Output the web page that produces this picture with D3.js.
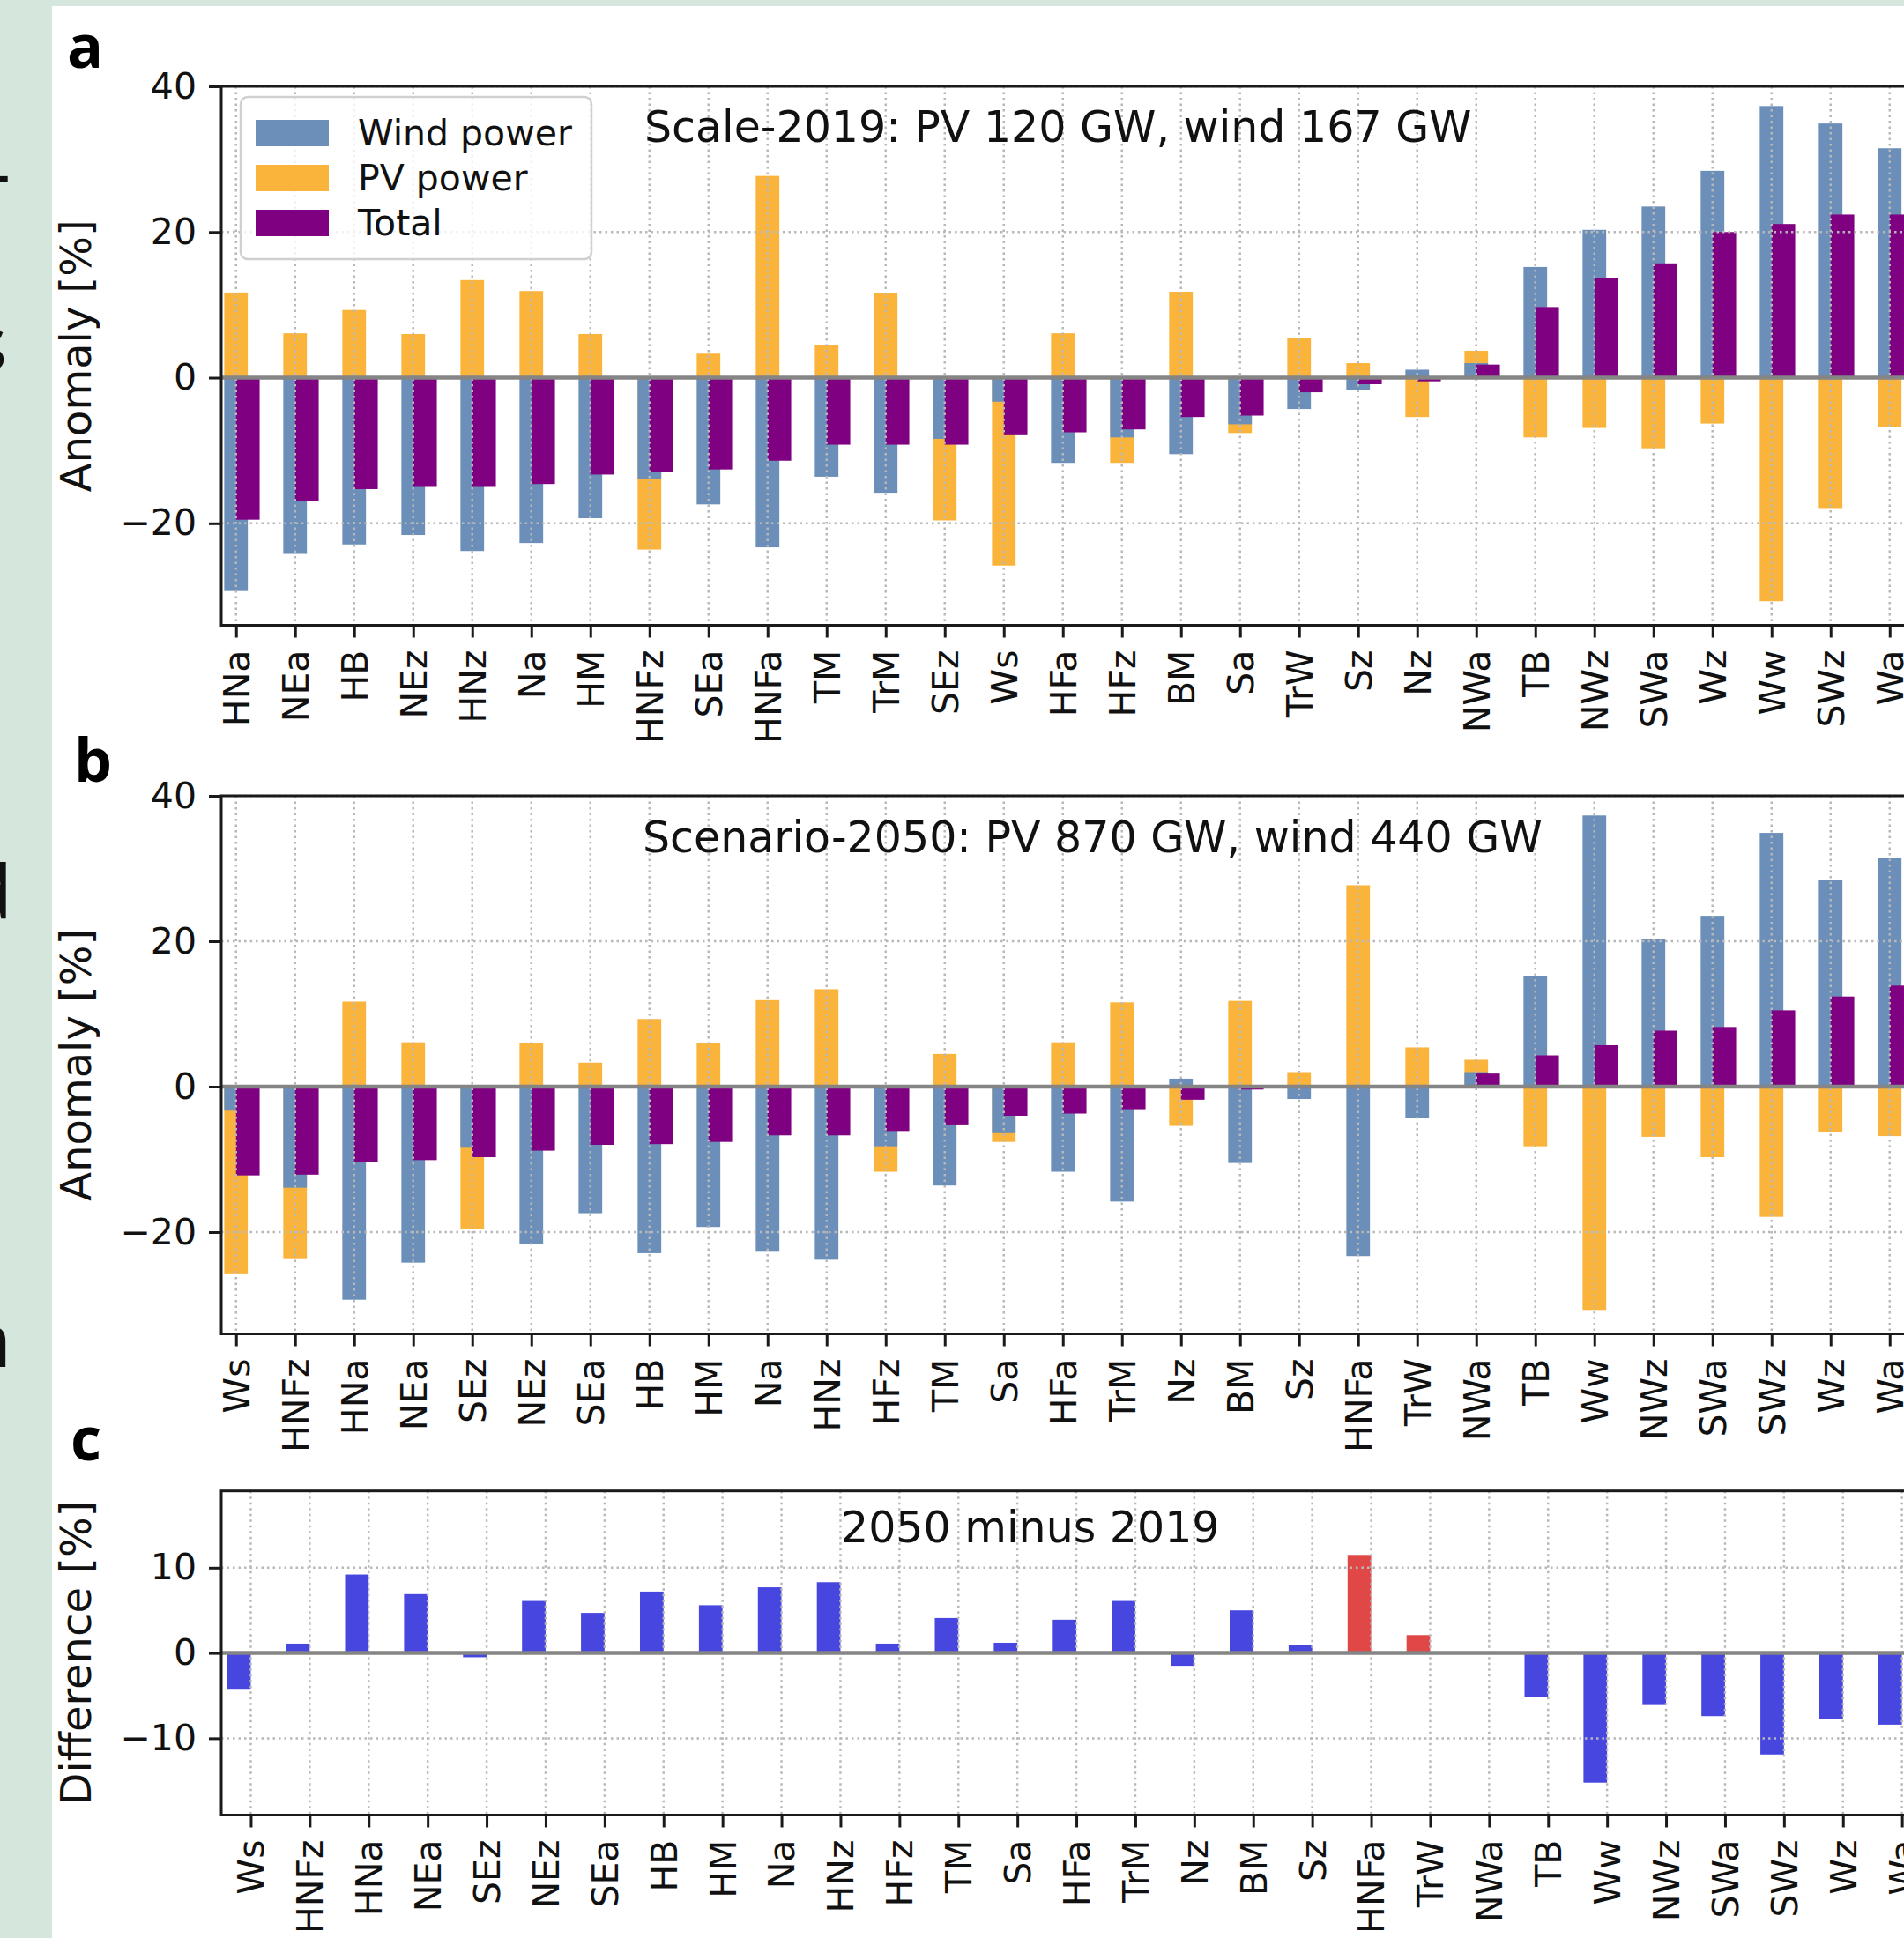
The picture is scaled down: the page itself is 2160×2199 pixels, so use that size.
<!DOCTYPE html>
<html lang="en">
<head>
  <meta charset="UTF-8">
  <title>Weather-type anomalies of wind and PV power</title>
  <script src="https://d3js.org/d3.v7.min.js"></script>
  <style>
    body { margin: 0; background: #fff; }
    svg text { font-family: "DejaVu Sans", sans-serif; }
  </style>
</head>
<body>
<div class="canvas"></div>
<script>
  // panel a order (sorted by 2019 total anomaly)
  const typesA = ['HNa', 'NEa', 'HB', 'NEz', 'HNz', 'Na', 'HM', 'HNFz', 'SEa', 'HNFa', 'TM', 'TrM', 'SEz', 'Ws', 'HFa',
    'HFz', 'BM', 'Sa', 'TrW', 'Sz', 'Nz', 'NWa', 'TB', 'NWz', 'SWa', 'Wz', 'Ww', 'SWz', 'Wa']
  const windA = [-29.3, -24.2, -22.9, -21.6, -23.8, -22.7, -19.3, -13.9, -17.4, -23.3, -13.6, -15.8, -8.4, -3.3, -11.7,
    -8.2, -10.5, -6.4, -4.3, -1.7, 1.1, 2.0, 15.2, 20.3, 23.5, 28.4, 37.3, 34.9, 31.5]
  const pvA = [11.7, 6.1, 9.3, 6.0, 13.4, 11.9, 6.0, -23.6, 3.3, 27.7, 4.5, 11.6, -19.6, -25.8, 6.1,
    -11.7, 11.8, -7.6, 5.4, 2.0, -5.4, 3.7, -8.2, -6.9, -9.7, -6.3, -30.7, -17.9, -6.8]
  const totalA = [-19.5, -17.0, -15.3, -15.0, -15.0, -14.6, -13.3, -13.0, -12.6, -11.4, -9.2, -9.2, -9.2, -7.9, -7.5,
    -7.1, -5.4, -5.2, -2.0, -0.9, -0.5, 1.8, 9.7, 13.7, 15.7, 20.0, 21.1, 22.4, 22.4]

  // panel b and c order (sorted by 2050 total anomaly)
  const typesB = ['Ws', 'HNFz', 'HNa', 'NEa', 'SEz', 'NEz', 'SEa', 'HB', 'HM', 'Na', 'HNz', 'HFz', 'TM', 'Sa', 'HFa',
    'TrM', 'Nz', 'BM', 'Sz', 'HNFa', 'TrW', 'NWa', 'TB', 'Ww', 'NWz', 'SWa', 'SWz', 'Wz', 'Wa']
  const totalB = [-12.2, -12.1, -10.3, -10.1, -9.7, -8.8, -8.0, -7.9, -7.6, -6.7, -6.7, -6.1, -5.2, -4.0, -3.7,
    -3.1, -1.8, -0.4, 0.0, 0.1, 0.1, 1.8, 4.3, 5.7, 7.7, 8.2, 10.5, 12.4, 13.9]
  const diffC = [-4.3, 1.1, 9.2, 6.9, -0.5, 6.1, 4.7, 7.2, 5.6, 7.7, 8.3, 1.1, 4.1, 1.2, 3.9,
    6.1, -1.5, 5.0, 0.9, 11.5, 2.1, 0.0, -5.2, -15.2, -6.1, -7.4, -11.9, -7.7, -8.4]
  const flipped = ['HNFa', 'TrW'] // red bars in c

  const yTicksAB = [-20, 0, 20, 40]
  const yTicksC = [-10, 0, 10]
  const legendLabels = ['Wind power', 'PV power', 'Total']

  // wind and PV anomalies are per weather type, same in a and b
  const windB = typesB.map(t => windA[typesA.indexOf(t)])
  const pvB = typesB.map(t => pvA[typesA.indexOf(t)])

  const col = { wind: '#6b8fb9', pv: '#fbb43b', total: '#7f0080', up: '#4747e0', flip: '#e04848' }

  const W = 2160, H = 2199
  const svg = d3.select('.canvas').append('svg')
    .attr('width', W)
    .attr('height', H)

  // slide background around the figure
  svg.append('rect').attr('width', W).attr('height', H).attr('fill', '#d5e6dc')
  svg.append('rect').attr('x', 59).attr('y', 7).attr('width', W - 59).attr('height', H - 7).attr('fill', '#fff')
  // cut-off slide text on the left
  const slideBits = [['-', 12, 226], ['s', 8, 420], ['d', 14, 1042], ['n', 13, 1551]]
  svg.selectAll('text.slide')
    .data(slideBits)
    .enter()
    .append('text')
    .attr('class', 'slide')
    .attr('x', d => d[1])
    .attr('y', d => d[2])
    .attr('text-anchor', 'end')
    .style('font-family', '"Open Sans", sans-serif')
    .style('font-size', '84px')
    .attr('fill', '#111')
    .text(d => d[0])

  const left = 251, right = 2192

  // frame: grid, axes, spines
  function frame(x, y, types, yTicks, top, bottom, ylabel) {
    const g = svg.append('g')
    g.append('g').selectAll('line')
      .data(d3.range(types.length))
      .enter()
      .append('line')
      .attr('x1', d => x(d)).attr('x2', d => x(d))
      .attr('y1', top).attr('y2', bottom)
      .attr('stroke', '#b8b8b8')
      .attr('stroke-width', 2.5)
      .attr('stroke-dasharray', '2.5,4')
    g.append('g').selectAll('line')
      .data(yTicks)
      .enter()
      .append('line')
      .attr('x1', left).attr('x2', right)
      .attr('y1', d => y(d)).attr('y2', d => y(d))
      .attr('stroke', '#b8b8b8')
      .attr('stroke-width', 2.5)
      .attr('stroke-dasharray', '2.5,4')
    g.append('line')
      .attr('x1', left).attr('x2', right)
      .attr('y1', y(0)).attr('y2', y(0))
      .attr('stroke', '#858585')
      .attr('stroke-width', 4.5)
    g.append('rect')
      .attr('x', left).attr('y', top)
      .attr('width', right - left).attr('height', bottom - top)
      .attr('fill', 'none')
      .attr('stroke', '#1a1a1a')
      .attr('stroke-width', 3)

    const xAxis = g.append('g')
      .attr('transform', `translate(0,${bottom})`)
      .call(d3.axisBottom(x).tickValues(d3.range(types.length)).tickFormat(i => types[i]).tickSize(14).tickPadding(14))
    xAxis.select('.domain').remove()
    xAxis.selectAll('line').attr('stroke', '#1a1a1a').attr('stroke-width', 3)
    xAxis.selectAll('text')
      .attr('transform', 'rotate(-90)')
      .attr('text-anchor', 'end')
      .attr('x', -28)
      .attr('y', 0)
      .attr('dy', '0.35em')
      .style('font-size', '41px')
      .attr('fill', '#111')

    const yAxis = g.append('g')
      .attr('transform', `translate(${left},0)`)
      .call(d3.axisLeft(y).tickValues(yTicks).tickSize(14).tickPadding(14)
        .tickFormat(d => d < 0 ? '\u2212' + Math.abs(d) : d))
    yAxis.select('.domain').remove()
    yAxis.selectAll('line').attr('stroke', '#1a1a1a').attr('stroke-width', 3)
    yAxis.selectAll('text').style('font-size', '41px').attr('fill', '#111')

    g.append('text')
      .attr('transform', `translate(103,${(top + bottom) / 2}) rotate(-90)`)
      .attr('text-anchor', 'middle')
      .style('font-size', '48px')
      .attr('fill', '#111')
      .text(ylabel)
  }

  function barY(y, v) { return Math.min(y(0), y(v)) }
  function barH(y, v) { return Math.abs(y(v) - y(0)) }

  // panels a and b: PV behind, wind on top, total shifted right
  function anomalyPanel(types, wind, pv, total, top, bottom, title, titleX, titleY) {
    const x = d3.scaleLinear().domain([-0.25, -0.25 + (right - left) / 67]).range([left, right])
    const y = d3.scaleLinear().domain([-34, 40]).range([bottom, top])
    const g = svg.append('g')
    const series = [[pv, col.pv, -0.2], [wind, col.wind, -0.2], [total, col.total, 0]]
    series.forEach(s => {
      g.append('g').selectAll('rect')
        .data(s[0])
        .enter()
        .append('rect')
        .attr('x', (d, i) => x(i + s[2]))
        .attr('width', x(0.4) - x(0))
        .attr('y', d => barY(y, d))
        .attr('height', d => barH(y, d))
        .attr('fill', s[1])
    })
    frame(x, y, types, yTicksAB, top, bottom, 'Anomaly [%]')
    svg.append('text')
      .attr('x', titleX).attr('y', titleY)
      .style('font-size', '49px')
      .attr('fill', '#111')
      .text(title)
  }

  anomalyPanel(typesA, windA, pvA, totalA, 98, 709.5, 'Scale-2019: PV 120 GW, wind 167 GW', 731, 161)
  anomalyPanel(typesB, windB, pvB, totalB, 903, 1513.5, 'Scenario-2050: PV 870 GW, wind 440 GW', 729, 967)

  // panel c: difference, bars left of the tick
  const xc = d3.scaleLinear().domain([-0.5, -0.5 + (right - left) / 66.9]).range([left, right])
  const yc = d3.scaleLinear().domain([-19, 19]).range([2059.5, 1691.7])
  svg.append('g').selectAll('rect')
    .data(diffC)
    .enter()
    .append('rect')
    .attr('x', (d, i) => xc(i - 0.4))
    .attr('width', xc(0.4) - xc(0))
    .attr('y', d => barY(yc, d))
    .attr('height', d => barH(yc, d))
    .attr('fill', (d, i) => flipped.includes(typesB[i]) ? col.flip : col.up)
  frame(xc, yc, typesB, yTicksC, 1691.7, 2059.5, 'Difference [%]')
  svg.append('text')
    .attr('x', 954).attr('y', 1750)
    .style('font-size', '49px')
    .attr('fill', '#111')
    .text('2050 minus 2019')

  // legend in panel a
  const lg = svg.append('g')
  lg.append('rect')
    .attr('x', 273).attr('y', 110)
    .attr('width', 398).attr('height', 184)
    .attr('rx', 8)
    .attr('fill', '#fff').attr('fill-opacity', 0.8)
    .attr('stroke', '#d0d0d0').attr('stroke-width', 2.5)
  const legendCols = [col.wind, col.pv, col.total]
  legendLabels.forEach((t, i) => {
    lg.append('rect')
      .attr('x', 290).attr('y', 136 + i * 51)
      .attr('width', 83).attr('height', 30)
      .attr('fill', legendCols[i])
    lg.append('text')
      .attr('x', 406).attr('y', 165 + i * 51)
      .style('font-size', '41px')
      .attr('fill', '#111')
      .text(t)
  })

  // panel letters
  const letters = [['a', 76, 77], ['b', 84, 887], ['c', 80, 1657]]
  svg.selectAll('text.letter')
    .data(letters)
    .enter()
    .append('text')
    .attr('class', 'letter')
    .attr('x', d => d[1])
    .attr('y', d => d[2])
    .style('font-family', '"Open Sans", sans-serif')
    .style('font-weight', 700)
    .style('font-size', '68px')
    .attr('fill', '#000')
    .text(d => d[0])
</script>
</body>
</html>
